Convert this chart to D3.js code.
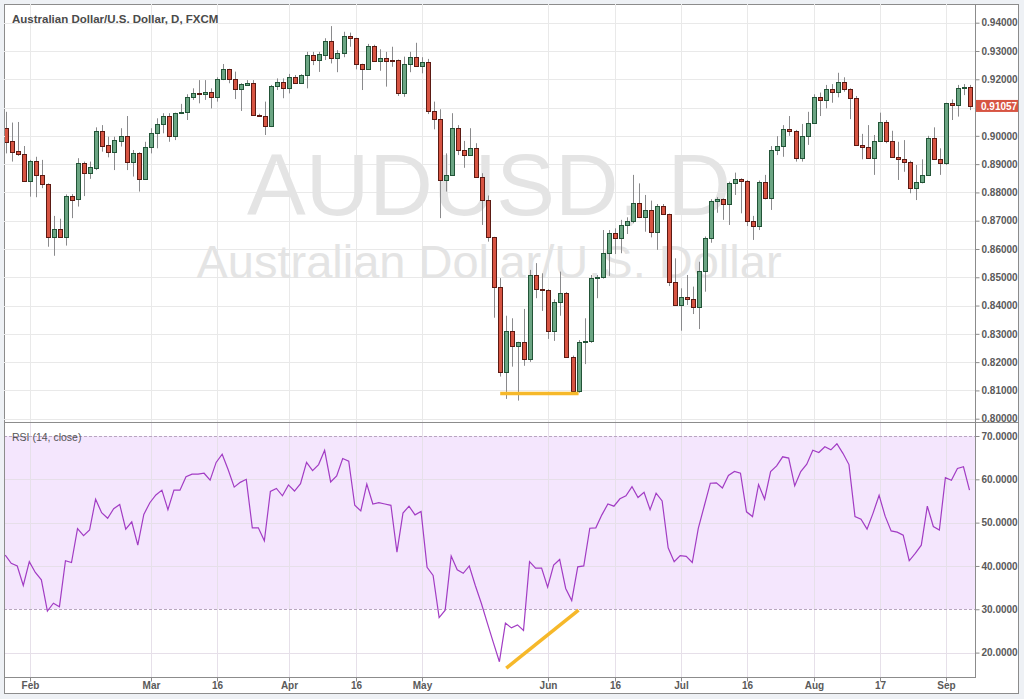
<!DOCTYPE html>
<html><head><meta charset="utf-8">
<script src="https://cdn.jsdelivr.net/npm/d3@7"></script>
<style>html,body{margin:0;padding:0;background:#eef1f5;}svg{display:block;font-family:"Liberation Sans",Arial,sans-serif;}</style>
</head><body><svg id="c" width="1024" height="699"></svg>
<script>
const title = "Australian Dollar/U.S. Dollar, D, FXCM";
const watermark1 = "AUDUSD, D";
const watermark2 = "Australian Dollar/U.S. Dollar";
const rsiTitle = "RSI (14, close)";

const open = [
.9027,.8982,.8946,.8936,.8840,.8911,.8862,.8829,.8644,.8670,
.8644,.8786,.8776,.8903,.8870,.8887,.9018,.8968,.8944,.8983,
.9000,.8909,.8938,.8849,.8960,.9009,.9042,.9070,.9001,.9080,
.9085,.9138,.9150,.9148,.9154,.9136,.9201,.9235,.9201,.9165,
.9180,.9188,.9074,.9071,.9035,.9176,.9189,.9170,.9207,.9188,
.9215,.9286,.9268,.9286,.9336,.9274,.9292,.9353,.9345,.9253,
.9236,.9319,.9266,.9274,.9269,.9268,.9153,.9253,.9278,.9248,
.9262,.9088,.9059,.8844,.8862,.9027,.8950,.8932,.8956,.8856,
.8773,.8641,.8465,.8164,.8310,.8258,.8270,.8211,.8508,.8459,
.8455,.8310,.8414,.8446,.8217,.8099,.8270,.8274,.8497,.8500,
.8585,.8656,.8638,.8685,.8700,.8762,.8712,.8738,.8661,.8752,
.8723,.8484,.8402,.8429,.8422,.8394,.8523,.8638,.8771,.8776,
.8758,.8832,.8846,.8842,.8700,.8681,.8837,.8779,.8950,.8965,
.9024,.9018,.8921,.9001,.9044,.9136,.9127,.9165,.9154,.9189,
.9165,.9133,.8968,.8960,.8923,.8982,.9050,.8982,.8924,.8918,
.8909,.8815,.8838,.8862,.8991,.8917,.8903,.9115,.9109,.9168,
.9174];
const high = [
.9085,.9047,.9049,.8964,.8915,.8926,.8915,.8832,.8717,.8707,
.8793,.8794,.8921,.8909,.8909,.9030,.9038,.8997,.8997,.9027,
.9070,.8950,.8942,.8979,.9027,.9062,.9080,.9080,.9082,.9113,
.9147,.9168,.9197,.9197,.9168,.9207,.9254,.9237,.9227,.9186,
.9197,.9197,.9078,.9121,.9180,.9203,.9203,.9219,.9215,.9218,
.9297,.9297,.9297,.9345,.9388,.9303,.9368,.9365,.9347,.9255,
.9325,.9322,.9306,.9297,.9315,.9270,.9280,.9297,.9329,.9278,
.9272,.9121,.9094,.8938,.9080,.9038,.8982,.9027,.8974,.8868,
.8789,.8643,.8497,.8364,.8355,.8272,.8388,.8526,.8550,.8514,
.8458,.8422,.8520,.8448,.8223,.8278,.8355,.8508,.8508,.8667,
.8667,.8673,.8703,.8712,.8862,.8832,.8791,.8771,.8759,.8759,
.8725,.8567,.8461,.8508,.8467,.8555,.8644,.8776,.8783,.8779,
.8838,.8870,.8850,.8844,.8717,.8842,.8862,.8964,.8999,.9038,
.9070,.9021,.9042,.9085,.9147,.9153,.9180,.9183,.9223,.9207,
.9168,.9141,.9007,.9038,.9003,.9082,.9056,.9018,.8979,.8985,
.8912,.8897,.8917,.9000,.9030,.8956,.9117,.9129,.9180,.9183,
.9180];
const low = [
.8938,.8909,.8929,.8838,.8785,.8783,.8815,.8608,.8576,.8641,
.8612,.8709,.8750,.8787,.8848,.8879,.8944,.8924,.8879,.8962,
.8879,.8856,.8803,.8845,.8938,.8956,.9009,.8979,.8985,.9077,
.9056,.9127,.9115,.9127,.9097,.9121,.9197,.9186,.9130,.9088,
.9178,.9072,.9068,.9003,.9031,.9162,.9133,.9150,.9186,.9186,
.9168,.9250,.9226,.9268,.9256,.9225,.9278,.9315,.9235,.9162,
.9234,.9262,.9230,.9174,.9244,.9141,.9138,.9225,.9246,.9221,
.9077,.9023,.8709,.8803,.8860,.8932,.8887,.8929,.8853,.8685,
.8626,.8357,.8149,.8070,.8184,.8064,.8187,.8201,.8426,.8381,
.8282,.8275,.8364,.8215,.8096,.8092,.8193,.8268,.8426,.8495,
.8505,.8582,.8585,.8653,.8691,.8709,.8661,.8641,.8597,.8720,
.8469,.8400,.8311,.8402,.8370,.8317,.8449,.8622,.8728,.8703,
.8685,.8791,.8726,.8681,.8632,.8667,.8775,.8738,.8932,.8926,
.9000,.8909,.8909,.8968,.9042,.9070,.9097,.9117,.9136,.9156,
.9059,.8964,.8917,.8921,.8862,.8980,.8974,.8922,.8844,.8873,
.8797,.8773,.8832,.8858,.8915,.8862,.8897,.9056,.9068,.9144,
.9091];
const close = [
.8979,.8944,.8935,.8840,.8911,.8861,.8829,.8644,.8670,.8644,
.8787,.8774,.8903,.8870,.8889,.9018,.8965,.8944,.8985,.9000,
.8909,.8940,.8849,.8960,.9009,.9042,.9070,.9001,.9080,.9085,
.9138,.9150,.9148,.9154,.9136,.9201,.9235,.9201,.9165,.9182,
.9188,.9074,.9071,.9035,.9176,.9189,.9170,.9207,.9188,.9215,
.9286,.9268,.9289,.9336,.9274,.9294,.9353,.9345,.9253,.9236,
.9319,.9266,.9274,.9266,.9267,.9153,.9253,.9278,.9248,.9262,
.9088,.9059,.8844,.8862,.9027,.8950,.8932,.8956,.8856,.8773,
.8641,.8465,.8164,.8310,.8258,.8270,.8211,.8508,.8459,.8455,
.8310,.8414,.8446,.8217,.8099,.8270,.8274,.8499,.8500,.8585,
.8656,.8638,.8685,.8700,.8762,.8712,.8738,.8661,.8752,.8723,
.8484,.8402,.8429,.8422,.8394,.8523,.8638,.8771,.8776,.8758,
.8832,.8846,.8842,.8700,.8681,.8837,.8779,.8950,.8965,.9024,
.9018,.8921,.9001,.9044,.9136,.9127,.9165,.9154,.9189,.9165,
.9133,.8968,.8960,.8923,.8982,.9050,.8982,.8924,.8918,.8909,
.8815,.8838,.8862,.8991,.8917,.8903,.9115,.9109,.9168,.9174,
.91057];
const rsi = [
42.5,40.6,40.0,35.5,41.0,38.5,36.8,29.6,31.4,30.6,
41.2,40.8,48.6,47.0,48.3,55.4,52.3,51.0,53.2,54.2,
48.5,50.2,44.8,51.9,54.6,56.4,57.5,53.0,57.5,57.5,
60.6,61.2,61.2,61.4,59.8,63.9,65.8,62.2,58.2,59.3,
60.0,48.8,48.8,45.8,57.2,57.9,56.2,58.7,57.3,59.0,
63.9,62.0,63.4,66.7,59.4,60.8,64.8,64.2,54.0,52.7,
58.9,54.3,54.6,54.3,54.0,43.2,52.2,53.8,51.8,52.6,
39.7,37.8,28.1,29.8,42.3,39.1,38.3,40.0,35.5,31.4,
26.8,22.3,17.9,26.8,25.7,26.4,25.1,41.0,39.5,39.5,
35.1,40.2,41.5,34.8,32.0,39.8,40.0,48.7,48.8,51.8,
54.3,53.8,55.5,56.2,58.3,55.8,57.0,53.0,56.8,55.0,
44.2,41.0,42.4,42.2,40.8,48.7,53.9,59.1,59.2,58.0,
60.9,61.8,61.4,52.5,51.4,58.8,55.4,61.8,63.1,65.2,
64.9,58.5,61.8,63.5,66.7,66.2,67.5,66.8,68.2,66.0,
63.4,51.4,50.8,48.5,52.2,56.3,51.5,48.1,47.8,47.1,
41.2,42.9,44.8,53.8,49.1,48.3,60.4,59.8,62.5,62.9,
57.5];

const xTickIndex = [4, 24, 35, 47, 58, 69, 90, 101, 112, 123, 134, 145, 156];
const xTickLabels = ["Feb","Mar","16","Apr","16","May","Jun","16","Jul","16","Aug","17","Sep"];
const priceTicks = [0.80,0.81,0.82,0.83,0.84,0.85,0.86,0.87,0.88,0.89,0.90,0.91,0.92,0.93,0.94];
const rsiTicks = [20,30,40,50,60,70];
const rsiBand = [30, 70];
// support line under the price double bottom and the rising RSI line
const supportIdx = [82, 95];
const supportPrice = [0.8089, 0.8089];
const rsiTrendIdx = [83, 95];
const rsiTrendVal = [16.4, 29.8];

const svg = d3.select("#c");
const L = 4, R = 975, FR = 1018, T = 4, PB = 422, RB = 677, FB = 693;
const n = close.length;
const data = d3.range(n).map(i => ({i, o: open[i], h: high[i], l: low[i], c: close[i], r: rsi[i]}));

const x = d3.scaleLinear().domain([0, n - 1]).range([6, 970.3]);
const yP = d3.scaleLinear().domain([0.80, 0.94]).range([418.7, 22.7]);
const yR = d3.scaleLinear().domain([20, 70]).range([652.6, 436]);

svg.append("rect").attr("width",1024).attr("height",699).attr("fill","#eef1f5");
svg.append("rect").attr("x",L+0.5).attr("y",T+0.5).attr("width",FR-L).attr("height",FB-T).attr("fill","#fff").attr("stroke","#8c8c8c");

const defs = svg.append("defs");
defs.append("clipPath").attr("id","cp").append("rect").attr("x",L+1).attr("y",T+1).attr("width",R-L-1).attr("height",PB-T-1);
defs.append("clipPath").attr("id","cr").append("rect").attr("x",L+1).attr("y",PB+1).attr("width",R-L-1).attr("height",RB-PB-1);
defs.append("clipPath").attr("id","cpa").append("rect").attr("x",R).attr("y",T+1).attr("width",FR-R).attr("height",PB-T-1);
defs.append("clipPath").attr("id","cra").append("rect").attr("x",R).attr("y",PB+1).attr("width",FR-R).attr("height",RB-PB+6);

// grids
const grid = svg.append("g");
grid.selectAll(".vg").data(xTickIndex).join("line")
  .attr("x1", d => Math.round(x(d)) + 0.5).attr("x2", d => Math.round(x(d)) + 0.5)
  .attr("y1", T).attr("y2", RB).attr("stroke", "#e9e9e9");
grid.selectAll(".hg").data(priceTicks).join("line")
  .attr("x1", L).attr("x2", R).attr("y1", d => Math.round(yP(d)) + 0.5).attr("y2", d => Math.round(yP(d)) + 0.5)
  .attr("stroke", "#e9e9e9");

// watermark
const wm = svg.append("g").attr("clip-path","url(#cp)");
wm.append("text").attr("x", 489).attr("y", 215).attr("text-anchor","middle").attr("font-size", 88)
  .attr("fill","#e4e4e4").text(watermark1);
wm.append("text").attr("x", 489).attr("y", 278).attr("text-anchor","middle").attr("font-size", 47)
  .attr("fill","#e4e4e4").text(watermark2);

// candles
const cg = svg.append("g").attr("clip-path","url(#cp)");
const cx = d => Math.round(x(d.i));
cg.selectAll(".wick").data(data).join("line")
  .attr("x1", d => cx(d) + 0.5).attr("x2", d => cx(d) + 0.5)
  .attr("y1", d => yP(d.h)).attr("y2", d => yP(d.l))
  .attr("stroke", "#8a8a8c").attr("stroke-width", 1);
cg.selectAll(".body").data(data).join("rect")
  .attr("x", d => cx(d) - 1.5).attr("width", 4)
  .attr("y", d => Math.round(yP(Math.max(d.o, d.c))) + 0.5)
  .attr("height", d => Math.max(1, Math.round(yP(Math.min(d.o, d.c))) - Math.round(yP(Math.max(d.o, d.c)))))
  .attr("fill", d => d.c >= d.o ? "#6ba583" : "#d75442")
  .attr("stroke", d => d.c >= d.o ? "#225437" : "#5b1a13").attr("stroke-width", 1);

// support line
cg.append("line").attr("x1", x(supportIdx[0])).attr("x2", x(supportIdx[1]))
  .attr("y1", yP(supportPrice[0])).attr("y2", yP(supportPrice[1]))
  .attr("stroke", "#f6b82a").attr("stroke-width", 3.5);

// title
svg.append("text").attr("x", 12).attr("y", 22.5).attr("font-size", 11.5).attr("fill", "#4a4a4a")
  .attr("font-weight", "bold").text(title);

// RSI pane
const rg = svg.append("g").attr("clip-path","url(#cr)");
rg.append("rect").attr("x", L).attr("width", R - L).attr("y", yR(rsiBand[1])).attr("height", yR(rsiBand[0]) - yR(rsiBand[1]))
  .attr("fill", "#f4e6fd");
rg.selectAll(".rg").data(rsiTicks.filter(v => !rsiBand.includes(v))).join("line")
  .attr("x1", L).attr("x2", R).attr("y1", d => Math.round(yR(d)) + 0.5).attr("y2", d => Math.round(yR(d)) + 0.5)
  .attr("stroke", "#e6dfe9");
rg.selectAll(".vg2").data(xTickIndex).join("line")
  .attr("x1", d => Math.round(x(d)) + 0.5).attr("x2", d => Math.round(x(d)) + 0.5)
  .attr("y1", PB).attr("y2", RB).attr("stroke", "#e6e0e9");
rg.selectAll(".band").data(rsiBand).join("line")
  .attr("x1", L).attr("x2", R).attr("y1", d => Math.round(yR(d)) + 0.5).attr("y2", d => Math.round(yR(d)) + 0.5)
  .attr("stroke", "#b8a6bf").attr("stroke-dasharray", "3,2");
rg.append("path").datum(data)
  .attr("d", d3.line().x(d => x(d.i) - 0.8).y(d => yR(d.r)))
  .attr("fill", "none").attr("stroke", "#a23cc4").attr("stroke-width", 1.2);
rg.append("line").attr("x1", x(rsiTrendIdx[0])).attr("x2", x(rsiTrendIdx[1]))
  .attr("y1", yR(rsiTrendVal[0])).attr("y2", yR(rsiTrendVal[1]))
  .attr("stroke", "#f6b82a").attr("stroke-width", 3.5);
svg.append("text").attr("x", 12).attr("y", 441).attr("font-size", 10.5).attr("fill", "#555").text(rsiTitle);

// axes
const pAx = svg.append("g").attr("clip-path","url(#cpa)").append("g").attr("transform", `translate(${R + 0.5},0)`)
  .call(d3.axisRight(yP).tickValues(priceTicks).tickFormat(d => d.toFixed(5)).tickSize(4).tickPadding(2));
const rAx = svg.append("g").attr("clip-path","url(#cra)").append("g").attr("transform", `translate(${R + 0.5},0)`)
  .call(d3.axisRight(yR).tickValues(rsiTicks).tickFormat(d => d.toFixed(4)).tickSize(4).tickPadding(2));
const xAx = svg.append("g").attr("transform", `translate(0,${RB + 0.5})`)
  .call(d3.axisBottom(x).tickValues(xTickIndex).tickFormat((d, i) => xTickLabels[i]).tickSize(4).tickPadding(0));
[pAx, rAx, xAx].forEach(g => {
  g.select(".domain").remove();
  g.selectAll(".tick line").attr("stroke", "#8c8c8c");
  g.selectAll(".tick text").attr("fill", "#5a5a5a").attr("font-size", 10).attr("font-weight", "bold")
    .attr("font-family", '"Liberation Sans",Arial,sans-serif');
});
xAx.selectAll(".tick").attr("transform", d => `translate(${Math.round(x(d)) + 0.5},0)`);

// frame lines
svg.append("line").attr("x1", R + 0.5).attr("x2", R + 0.5).attr("y1", T).attr("y2", RB + 1).attr("stroke", "#8c8c8c");
svg.append("line").attr("x1", L).attr("x2", FR).attr("y1", PB + 0.5).attr("y2", PB + 0.5).attr("stroke", "#8c8c8c");
svg.append("line").attr("x1", L).attr("x2", R).attr("y1", RB + 0.5).attr("y2", RB + 0.5).attr("stroke", "#8c8c8c");

// last price label
const lastC = close[n - 1];
svg.append("rect").attr("x", R + 1).attr("y", yP(lastC) - 6).attr("width", FR - R - 1).attr("height", 12).attr("fill", "#d75442");
svg.append("text").attr("x", R + 6).attr("y", yP(lastC) + 3.6).attr("font-size", 10).attr("font-weight", "bold")
  .attr("fill", "#fff").text(lastC.toFixed(5));
</script></body></html>
